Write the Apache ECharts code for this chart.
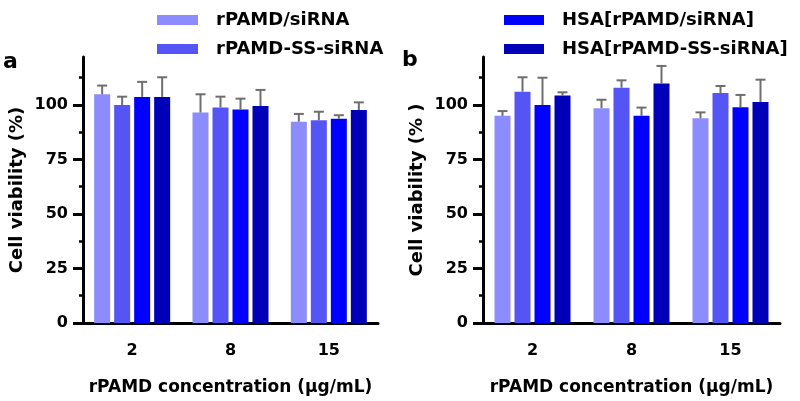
<!DOCTYPE html>
<html>
<head>
<meta charset="utf-8">
<script src="https://cdn.jsdelivr.net/npm/echarts@6/dist/echarts.min.js"></script>
<style>html,body{margin:0;padding:0;background:#fff}#c{width:800px;height:401px}</style>
</head>
<body>
<div id="c"></div>
<script>
var categories = ['2', '8', '15'];
var seriesNames = ['rPAMD/siRNA', 'rPAMD-SS-siRNA', 'HSA[rPAMD/siRNA]', 'HSA[rPAMD-SS-siRNA]'];
var colors = ['#8c8cff', '#5555f5', '#0000ff', '#0000b8'];
var yMajorTicks = [0, 25, 50, 75, 100];
var yMinorTicks = [12.5, 37.5, 62.5, 87.5, 112.5];

// Panel a: means and upper SD
var aMeans = [
  [104.9, 96.5, 92.3],
  [100.0, 98.8, 93.0],
  [103.7, 97.9, 93.7],
  [103.7, 99.5, 97.7]
];
var aErr = [
  [4.0, 8.4, 3.6],
  [3.8, 5.0, 3.9],
  [6.9, 5.0, 1.6],
  [9.0, 7.4, 3.5]
];
// Panel b
var bMeans = [
  [95.0, 98.5, 93.9],
  [106.1, 107.9, 105.5],
  [100.0, 95.0, 98.9],
  [104.3, 109.8, 101.4]
];
var bErr = [
  [2.2, 3.9, 2.7],
  [6.6, 3.4, 3.2],
  [12.5, 3.8, 5.7],
  [1.5, 8.1, 10.2]
];

var FONT = 'DejaVu Sans';
var BAR_W = 16, BAR_PITCH = 20;

function xAxisCfg(gi) {
  return {
    type: 'category', gridIndex: gi, data: categories,
    axisLine: {lineStyle: {color: '#000', width: 3}},
    axisTick: {alignWithLabel: true, length: 9, lineStyle: {color: '#000', width: 3}},
    axisLabel: {color: '#000', fontFamily: FONT, fontWeight: 'bold', fontSize: 16, margin: 20},
    name: 'rPAMD concentration (\u00b5g/mL)', nameLocation: 'middle', nameGap: 56,
    nameTextStyle: {color: '#000', fontFamily: FONT, fontWeight: 'bold', fontSize: 17}
  };
}
function yMainCfg(gi, title) {
  return {
    type: 'value', gridIndex: gi, min: 0, max: 122,
    splitLine: {show: false},
    axisLine: {show: true, lineStyle: {color: '#000', width: 3}},
    axisTick: {show: true, length: 10, customValues: yMajorTicks, lineStyle: {color: '#000', width: 3}},
    axisLabel: {customValues: yMajorTicks, color: '#000', fontFamily: FONT, fontWeight: 'bold', fontSize: 16, margin: 15},
    name: title, nameLocation: 'middle', nameGap: 57,
    nameTextStyle: {color: '#000', fontFamily: FONT, fontWeight: 'bold', fontSize: 18}
  };
}
function yMinorCfg(gi) {
  return {
    type: 'value', gridIndex: gi, min: 0, max: 122, position: 'left',
    splitLine: {show: false},
    axisLine: {show: false},
    axisTick: {show: true, length: 4, customValues: yMinorTicks, lineStyle: {color: '#000', width: 2.5}},
    axisLabel: {show: false}
  };
}

var series = [];
function addPanel(gi, means, errs) {
  for (var i = 0; i < 4; i++) {
    series.push({
      type: 'bar', name: seriesNames[i], xAxisIndex: gi, yAxisIndex: gi * 2,
      data: means[i], barWidth: BAR_W, barGap: '25%',
      itemStyle: {color: colors[i]}, z: 2
    });
  }
  for (var j = 0; j < 4; j++) {
    (function (idx) {
      var data = [];
      for (var k = 0; k < categories.length; k++) {
        data.push([k, means[idx][k], means[idx][k] + errs[idx][k]]);
      }
      series.push({
        type: 'custom', xAxisIndex: gi, yAxisIndex: gi * 2, z: 5, silent: true,
        data: data,
        renderItem: function (params, api) {
          var c = api.value(0);
          var p0 = api.coord([c, api.value(1)]);
          var p1 = api.coord([c, api.value(2)]);
          var x = p0[0] + (idx - 1.5) * BAR_PITCH;
          var style = {stroke: '#6e6e6e', lineWidth: 2};
          return {
            type: 'group', children: [
              {type: 'line', shape: {x1: x, y1: p0[1], x2: x, y2: p1[1]}, style: style},
              {type: 'line', shape: {x1: x - 5, y1: p1[1], x2: x + 5, y2: p1[1]}, style: style}
            ]
          };
        }
      });
    })(j);
  }
}
addPanel(0, aMeans, aErr);
addPanel(1, bMeans, bErr);

var legendText = {color: '#000', fontFamily: FONT, fontWeight: 'bold', fontSize: 18, padding: [0, 0, 0, 13]};
var chart = echarts.init(document.getElementById('c'));
chart.setOption({
  animation: false,
  backgroundColor: '#fff',
  grid: [
    {left: 83, top: 57, width: 295, bottom: 78},
    {left: 483, top: 57, width: 297, bottom: 78}
  ],
  xAxis: [xAxisCfg(0), xAxisCfg(1)],
  yAxis: [yMainCfg(0, 'Cell viability (%)'), yMinorCfg(0), yMainCfg(1, 'Cell viability (% )'), yMinorCfg(1)],
  legend: [
    {data: [seriesNames[0], seriesNames[1]], orient: 'vertical', left: 152, top: 6,
     itemWidth: 41, itemHeight: 10, itemGap: 11, icon: 'rect', textStyle: legendText, selectedMode: false},
    {data: [seriesNames[2], seriesNames[3]], orient: 'vertical', left: 499, top: 6,
     itemWidth: 40, itemHeight: 10, itemGap: 11, icon: 'rect', textStyle: legendText, selectedMode: false}
  ],
  graphic: [
    {type: 'text', left: 3, top: 51, style: {text: 'a', font: 'bold 22px "DejaVu Sans"', fill: '#000'}},
    {type: 'text', left: 402, top: 49, style: {text: 'b', font: 'bold 22px "DejaVu Sans"', fill: '#000'}}
  ],
  series: series
});
</script>
</body>
</html>
